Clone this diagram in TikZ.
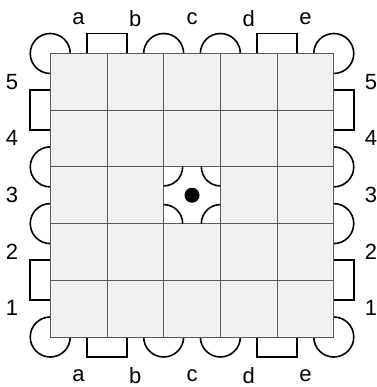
\documentclass[tikz,border=0pt]{standalone}
\usepackage{fontspec}
\setmainfont{Liberation Sans}
\usetikzlibrary{calc}
\definecolor{boardfill}{HTML}{F0F0F0}
\definecolor{gridgray}{HTML}{5A5A5A}

\begin{document}
\begin{tikzpicture}[x=1pt,y=1pt,
  seat/.style={draw=black, line width=1.6pt},
  gridline/.style={draw=gridgray, line width=0.8pt},
  coord/.style={font=\fontsize{22}{26}\selectfont}]
\def\c{56.7}
\def\r{20}
\def\h{141.75}
\def\x{50.25}

\useasboundingbox (0,0) rectangle (376,387);

\coordinate (M) at (192,191.75);
\coordinate (SW) at ($(M)+(-\h,-\h)$);
\coordinate (NE) at ($(M)+(\h,\h)$);
\coordinate (HC) at ($(SW)+(2*\c,2*\c)$);
\coordinate (HM) at ($(HC)+(0.5*\c,0.5*\c)$);

% seats round the board, one side at a time
\foreach \a in {0,90,180,270}{
  \begin{scope}[rotate around={\a:(M)}]
    \draw[seat] ($(M)+(-\h,\h)$) circle (\r);
    \draw[seat] ($(M)+(-\h+\c-\r,\h)$) -- ++(0,\r) -- ++(2*\r,0) -- ++(0,-\r);
    \draw[seat] ($(M)+(-\h+4*\c-\r,\h)$) -- ++(0,\r) -- ++(2*\r,0) -- ++(0,-\r);
    \draw[seat] ($(M)+(-\h+2*\c+\r,\h)$) arc (0:180:\r);
    \draw[seat] ($(M)+(-\h+3*\c+\r,\h)$) arc (0:180:\r);
  \end{scope}
}

% board
\fill[boardfill] (SW) rectangle (NE);
\fill[white] (HC) rectangle ++(\c,\c);
\foreach \i in {1,...,4}{
  \draw[gridline] ($(SW)+(\i*\c,0)$) -- ++(0,5*\c);
  \draw[gridline] ($(SW)+(0,\i*\c)$) -- ++(5*\c,0);
}
\draw[gridline] (SW) rectangle (NE);

% home square
\begin{scope}
  \clip (HC) rectangle ++(\c,\c);
  \draw[seat] (HC) circle (19);
  \draw[seat] ($(HC)+(\c,0)$) circle (19);
  \draw[seat] ($(HC)+(0,\c)$) circle (19);
  \draw[seat] ($(HC)+(\c,\c)$) circle (19);
\end{scope}
\fill (HM) circle (7.5);

% coordinates
\foreach \l [count=\i] in {a,b,c,d,e}{
  \node[coord] (top\l) at ({\x+(\i-0.5)*\c},368) {\l};
  \node[coord] (bot\l) at ({\x+(\i-0.5)*\c},11) {\l};
}
\foreach \i in {1,...,5}{
  \node[coord] (left\i) at (12,{\x+(\i-0.5)*\c}) {\i};
  \node[coord] (right\i) at (371,{\x+(\i-0.5)*\c}) {\i};
}
\end{tikzpicture}
\end{document}
